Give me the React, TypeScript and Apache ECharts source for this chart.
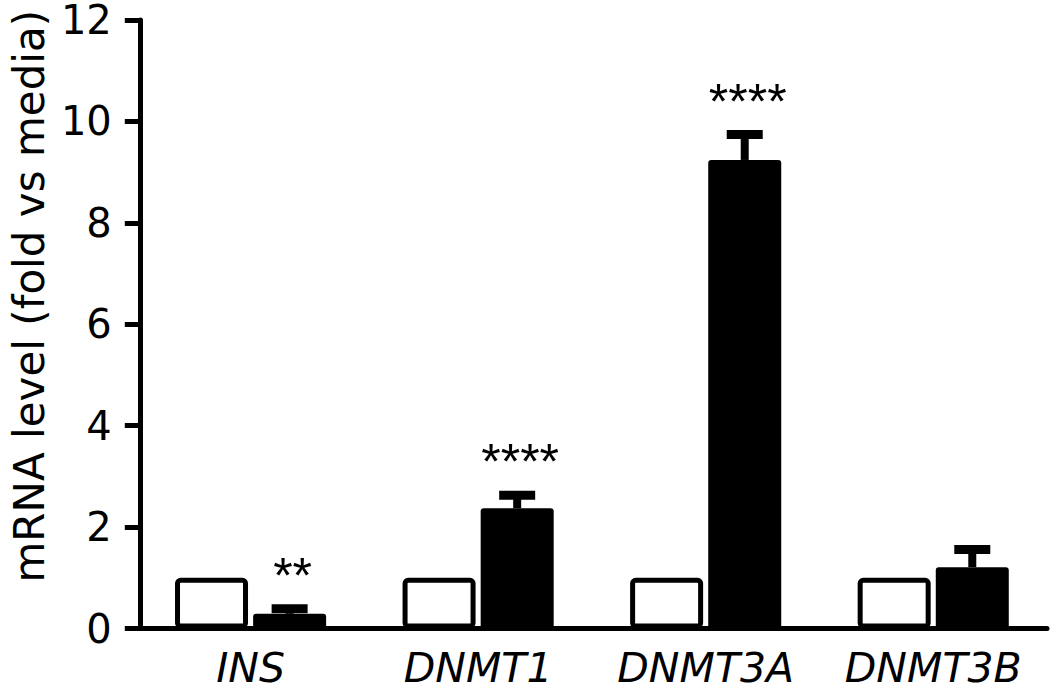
import React, { useEffect, useRef } from "react";
import * as echarts from "echarts";

const categories = ["INS", "DNMT1", "DNMT3A", "DNMT3B"];
const mediaValues = [1, 1, 1, 1];
const treatedValues = [0.29, 2.37, 9.24, 1.21];
const treatedErrorTops = [0.39, 2.63, 9.74, 1.56];
const significance = ["**", "****", "****", ""];
const yTicks = { min: 0, max: 12, interval: 2 };

const BAR_W = 73;
const GAP = 0.07;
const FONT = "'DejaVu Sans', 'Liberation Sans', Arial, sans-serif";
const STAR_FONT = "'Liberation Sans', Arial, sans-serif";

export default function App() {
  const ref = useRef<HTMLDivElement>(null);
  useEffect(() => {
    document.body.style.margin = "0";
    const chart = echarts.init(ref.current!, null, { renderer: "svg" });
    const offset = (BAR_W * (1 + GAP)) / 2;
    const errData = categories.map((c, i) => [i, treatedValues[i], treatedErrorTops[i], significance[i]]);
    chart.setOption({
      animation: false,
      backgroundColor: "#ffffff",
      grid: { left: 133, top: 16, width: 914, height: 612.5, containLabel: false },
      xAxis: {
        type: "category",
        data: categories,
        axisLine: { lineStyle: { color: "#000", width: 5 } },
        axisTick: { alignWithLabel: true, length: 16, lineStyle: { color: "#000", width: 5 } },
        axisLabel: {
          interval: 0,
          hideOverlap: false,
          color: "#000",
          fontSize: 41,
          fontStyle: "italic",
          fontFamily: FONT,
          margin: 21,
          lineHeight: 36,
        },
        splitLine: { show: false },
      },
      yAxis: {
        type: "value",
        min: yTicks.min,
        max: yTicks.max,
        interval: yTicks.interval,
        offset: -3,
        name: "mRNA level (fold vs media)",
        nameLocation: "middle",
        nameGap: 89,
        nameTextStyle: { color: "#000", fontSize: 42, fontFamily: FONT, padding: [0, 0, 0, 56] },
        axisLine: { show: true, lineStyle: { color: "#000", width: 5 } },
        axisTick: { show: true, length: 15, lineStyle: { color: "#000", width: 5 } },
        axisLabel: { color: "#000", fontSize: 40, fontFamily: FONT, margin: 28, lineHeight: 30 },
        splitLine: { show: false },
      },
      series: [
        {
          type: "bar",
          data: mediaValues,
          barWidth: BAR_W,
          barGap: GAP * 100 + "%",
          itemStyle: { color: "#fff", borderColor: "#000", borderWidth: 5, borderRadius: 3 },
          z: 2,
        },
        {
          type: "bar",
          data: treatedValues,
          barWidth: BAR_W,
          barGap: GAP * 100 + "%",
          itemStyle: { color: "#000", borderRadius: 3 },
          z: 2,
        },
        {
          type: "custom",
          data: errData,
          encode: { x: 0, y: 2 },
          z: 3,
          renderItem: (params: any, api: any) => {
            const idx = api.value(0);
            const mean = api.value(1);
            const top = api.value(2);
            const label = errData[params.dataIndex][3] as string;
            const pTop = api.coord([idx, top]);
            const pMean = api.coord([idx, mean]);
            const x = pTop[0] + offset;
            const capHalf = 18;
            return {
              type: "group",
              children: [
                {
                  type: "line",
                  shape: { x1: x, y1: pMean[1], x2: x, y2: pTop[1] },
                  style: { stroke: "#000", lineWidth: 8 },
                },
                {
                  type: "line",
                  shape: { x1: x - capHalf, y1: pTop[1], x2: x + capHalf, y2: pTop[1] },
                  style: { stroke: "#000", lineWidth: 9 },
                },
                {
                  type: "text",
                  style: {
                    text: label,
                    x: x + 3,
                    y: pTop[1] - 8,
                    textAlign: "center",
                    textVerticalAlign: "bottom",
                    fontSize: 50,
                    fontFamily: STAR_FONT,
                    fill: "#000",
                  },
                },
              ],
            };
          },
        },
      ],
    });
    return () => chart.dispose();
  }, []);
  return <div ref={ref} style={{ position: "fixed", left: 0, top: 0, width: 1050, height: 694 }} />;
}
